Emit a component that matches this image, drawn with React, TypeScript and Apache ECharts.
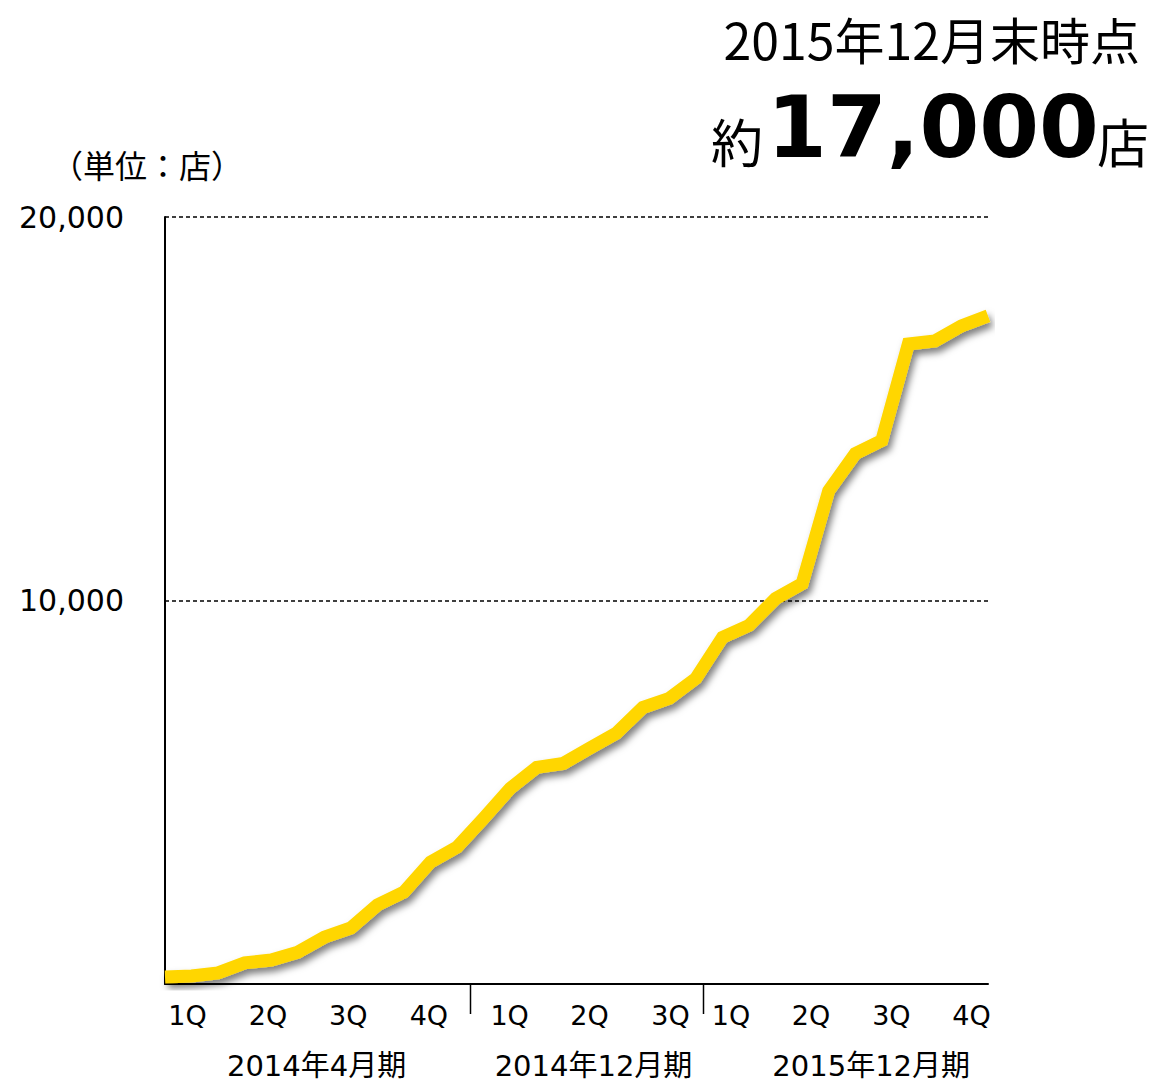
import React, { useEffect, useRef } from "react";
import * as echarts from "echarts";

// Monthly store counts, May 2013 – Dec 2015 (32 months)
const storeCounts = [
  180, 210, 290, 550, 625, 830, 1220, 1460, 2060, 2400, 3180, 3570,
  4320, 5100, 5650, 5750, 6150, 6540, 7210, 7450, 7970,
  9040, 9350, 10050, 10440, 12860, 13830, 14170, 16690, 16770, 17160, 17420,
];

const yMin = 0;
const yMax = 20000;
const yInterval = 10000;

const quarterLabels = ["1Q", "2Q", "3Q", "4Q", "1Q", "2Q", "3Q", "1Q", "2Q", "3Q", "4Q"];
const quarterLabelAt = [0.85, 3.88, 6.9, 9.94, 12.98, 15.99, 19.04, 21.32, 24.33, 27.36, 30.38];
const periodLabels = ["2014年4月期", "2014年12月期", "2015年12月期"];
const periodLabelAt = [5.71, 16.14, 26.6];
const periodDividerAt = [11.5, 20.26];

const unitLabel = "（単位：店）";
const titleLine1 = "2015年12月末時点";
const titlePrefix = "約";
const titleNumber = "17,000";
const titleSuffix = "店";

const LATIN = '"DejaVu Sans", "Noto Sans CJK JP", sans-serif';
const CJK = '"Noto Sans CJK JP", sans-serif';

export default function App() {
  const ref = useRef<HTMLDivElement>(null);

  useEffect(() => {
    document.body.style.margin = "0";
    const chart = echarts.init(ref.current!, null, { renderer: "svg" });
    chart.setOption({
      animation: false,
      backgroundColor: "#ffffff",
      grid: { left: 165, right: 166, top: 217, bottom: 100, containLabel: false },
      xAxis: {
        type: "value",
        min: 0,
        max: storeCounts.length - 1,
        axisLine: { show: true, onZero: false, lineStyle: { color: "#000", width: 2 } },
        axisTick: { show: false },
        axisLabel: { show: false },
        splitLine: { show: false },
      },
      yAxis: {
        type: "value",
        min: yMin,
        max: yMax,
        interval: yInterval,
        axisLine: { show: true, lineStyle: { color: "#000", width: 2 } },
        axisTick: { show: false },
        axisLabel: {
          color: "#000",
          fontSize: 30,
          fontFamily: LATIN,
          margin: 41,
          formatter: (v: number) => (v === 0 ? "" : v.toLocaleString("en-US")),
        },
        splitLine: {
          show: true,
          lineStyle: { color: "#000", width: 1.5, type: [4, 3] },
        },
      },
      series: [
        {
          type: "line",
          data: storeCounts.map((v, i) => [i, v]),
          symbol: "none",
          silent: true,
          z: 10,
          lineStyle: {
            color: "#FFD600",
            width: 13,
            join: "miter",
            cap: "butt",
            shadowColor: "rgba(0,0,0,0.5)",
            shadowBlur: 7,
            shadowOffsetX: 3,
            shadowOffsetY: 5,
          },
        },
      ],
    });

    const px = (v: number) => chart.convertToPixel({ xAxisIndex: 0 }, v) as number;
    const y0 = chart.convertToPixel({ yAxisIndex: 0 }, 0) as number;

    const graphic: any[] = [];
    periodDividerAt.forEach((p) => {
      const x = Math.round(px(p)) + 0.5;
      graphic.push({
        type: "line",
        shape: { x1: x, y1: y0, x2: x, y2: y0 + 30 },
        style: { stroke: "#000", lineWidth: 1.5 },
      });
    });
    quarterLabels.forEach((t, i) => {
      graphic.push({
        type: "text",
        x: px(quarterLabelAt[i]),
        y: y0 + 31,
        style: { text: t, fill: "#000", fontSize: 27, fontFamily: LATIN, align: "center", verticalAlign: "middle" },
      });
    });
    periodLabels.forEach((t, i) => {
      graphic.push({
        type: "text",
        x: px(periodLabelAt[i]),
        y: y0 + 82,
        style: { text: t, fill: "#000", fontSize: 29, fontFamily: LATIN, align: "center", verticalAlign: "middle" },
      });
    });
    graphic.push(
      {
        type: "text",
        x: 147,
        y: 164,
        style: { text: unitLabel, fill: "#000", fontSize: 32, fontFamily: CJK, align: "center", verticalAlign: "middle" },
      },
      {
        type: "text",
        x: 1140,
        y: 38,
        style: { text: titleLine1, fill: "#000", fontSize: 50, fontFamily: CJK, align: "right", verticalAlign: "middle" },
      },
      {
        type: "text",
        x: 711,
        y: 140,
        style: { text: titlePrefix, fill: "#000", fontSize: 52, fontFamily: CJK, align: "left", verticalAlign: "middle" },
      },
      {
        type: "text",
        x: 933,
        y: 127,
        style: {
          text: titleNumber,
          fill: "#000",
          fontSize: 86,
          fontWeight: "bold",
          fontFamily: '"DejaVu Sans", sans-serif',
          align: "center",
          verticalAlign: "middle",
        },
      },
      {
        type: "text",
        x: 1097,
        y: 140,
        style: { text: titleSuffix, fill: "#000", fontSize: 52, fontFamily: CJK, align: "left", verticalAlign: "middle" },
      }
    );
    chart.setOption({ graphic });

    return () => chart.dispose();
  }, []);

  return <div ref={ref} style={{ width: 1154, height: 1084 }} />;
}
